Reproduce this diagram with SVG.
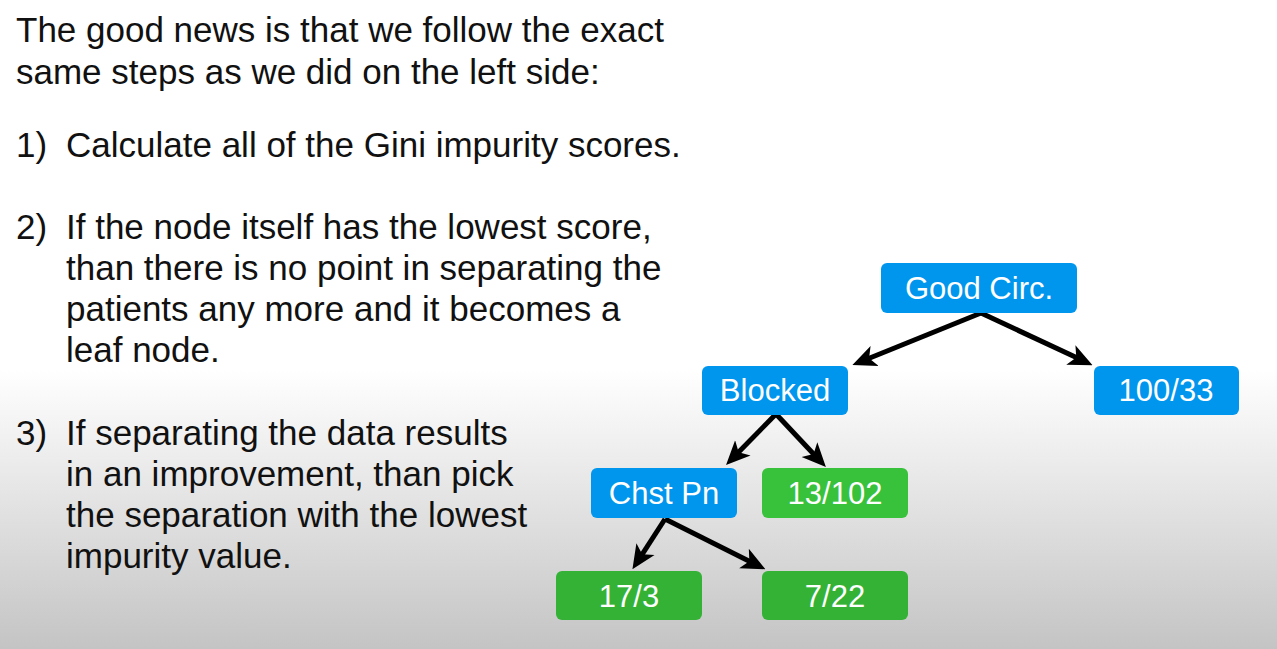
<svg xmlns="http://www.w3.org/2000/svg" width="1277" height="649" viewBox="0 0 1277 649">
<defs>
<linearGradient id="bg" x1="0" y1="0" x2="0" y2="649" gradientUnits="userSpaceOnUse">
<stop offset="0" stop-color="#ffffff"/>
<stop offset="0.57" stop-color="#ffffff"/>
<stop offset="1" stop-color="#c4c4c4"/>
</linearGradient>
<marker id="ah" viewBox="0 0 20 20" refX="11" refY="10" markerWidth="24" markerHeight="24" markerUnits="userSpaceOnUse" orient="auto">
<path d="M0,1 L20,10 L0,19 L5,10 Z" fill="#000"/>
</marker>
<style>
.t{font-family:"Liberation Sans",Arial,Helvetica,sans-serif;font-size:35px;fill:#111111}
.n{font-family:"Liberation Sans",Arial,Helvetica,sans-serif;font-size:31px;fill:#ffffff;text-anchor:middle}
.blue{fill:#0096ee}
.green{fill:#38c23c}
.green2{fill:#33b236}
.c{stroke:#000;stroke-width:5;fill:none;marker-end:url(#ah)}
</style>
</defs>
<rect x="0" y="0" width="1277" height="649" fill="url(#bg)"/>
<g id="text">
<text class="t" x="16" y="42">The good news is that we follow the exact</text>
<text class="t" x="16" y="84">same steps as we did on the left side:</text>
<text class="t" x="16" y="157">1)</text>
<text class="t" x="66" y="157">Calculate all of the Gini impurity scores.</text>
<text class="t" x="16" y="239">2)</text>
<text class="t" x="66" y="239">If the node itself has the lowest score,</text>
<text class="t" x="66" y="280">than there is no point in separating the</text>
<text class="t" x="66" y="321">patients any more and it becomes a</text>
<text class="t" x="66" y="362">leaf node.</text>
<text class="t" x="16" y="445">3)</text>
<text class="t" x="66" y="445">If separating the data results</text>
<text class="t" x="66" y="486">in an improvement, than pick</text>
<text class="t" x="66" y="527">the separation with the lowest</text>
<text class="t" x="66" y="568">impurity value.</text>
</g>
<g id="connectors">
<line class="c" x1="981" y1="313" x2="862.4" y2="361"/>
<line class="c" x1="981" y1="313" x2="1082.8" y2="360.6"/>
<line class="c" x1="776" y1="414" x2="733.6" y2="457.3"/>
<line class="c" x1="776" y1="414" x2="818.5" y2="459.2"/>
<line class="c" x1="665" y1="519" x2="638.3" y2="560.3"/>
<line class="c" x1="665" y1="519" x2="755.8" y2="564.4"/>
</g>
<g id="good-circ">
<rect class="blue" x="881" y="263" width="196" height="50" rx="6"/>
<text class="n" x="979" y="299">Good Circ.</text>
</g>
<g id="blocked">
<rect class="blue" x="702" y="366" width="146" height="49" rx="6"/>
<text class="n" x="775" y="401">Blocked</text>
</g>
<g id="n100-33">
<rect class="blue" x="1094" y="366" width="145" height="49" rx="6"/>
<text class="n" x="1166" y="401">100/33</text>
</g>
<g id="chst-pn">
<rect class="blue" x="591" y="468" width="146" height="50" rx="6"/>
<text class="n" x="664" y="504">Chst Pn</text>
</g>
<g id="n13-102">
<rect class="green" x="762" y="468" width="146" height="50" rx="6"/>
<text class="n" x="835" y="504">13/102</text>
</g>
<g id="n17-3">
<rect class="green2" x="556" y="571" width="146" height="49" rx="6"/>
<text class="n" x="629" y="607">17/3</text>
</g>
<g id="n7-22">
<rect class="green2" x="762" y="571" width="146" height="49" rx="6"/>
<text class="n" x="835" y="607">7/22</text>
</g>
</svg>
